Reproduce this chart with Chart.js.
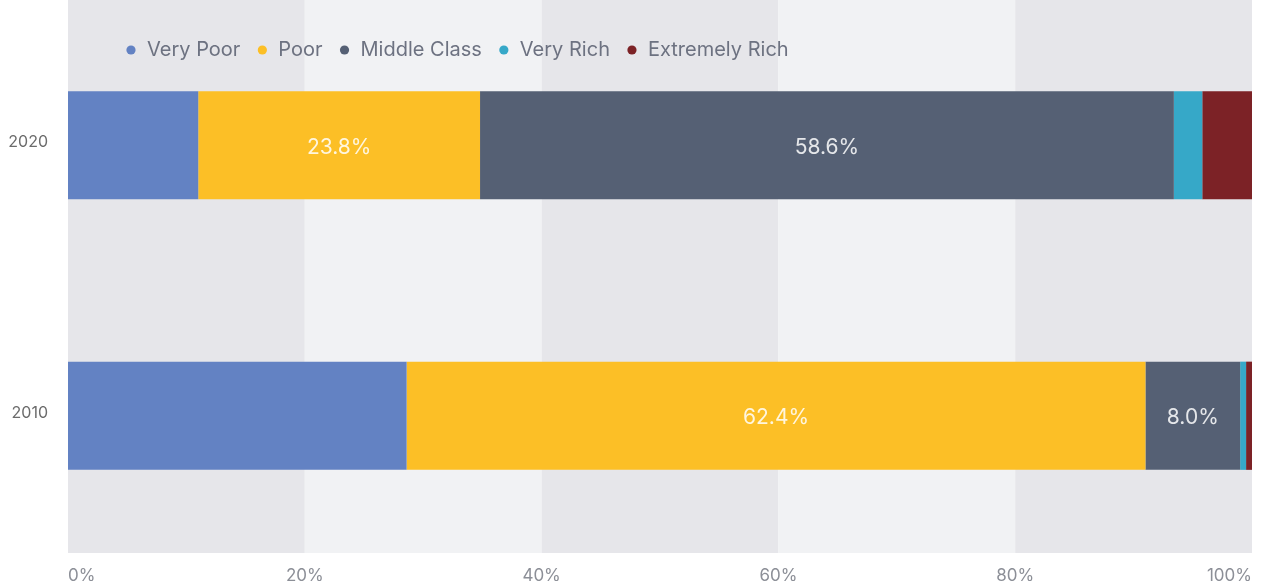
<!DOCTYPE html>
<html>
<head>
<meta charset="utf-8">
<script src="https://cdn.jsdelivr.net/npm/chart.js@4"></script>
<style>
  body { margin: 0; background: #fff; }
  #wrap { width: 1261px; height: 583px; position: relative; }
</style>
</head>
<body>
<div id="wrap"><canvas id="myChart"></canvas></div>
<script>
// data - START
const years = ['2020', '2010'];
const groups = ['Very Poor', 'Poor', 'Middle Class', 'Very Rich', 'Extremely Rich'];
const colors = ['#6382c3', '#fcbf26', '#556074', '#36a8c8', '#7c2226'];
const veryPoor = [11.0, 28.6];
const poor = [23.8, 62.4];
const middleClass = [58.6, 8.0];
const veryRich = [2.4, 0.5];
const extremelyRich = [4.2, 0.5];
const xTicks = [0, 20, 40, 60, 80, 100];
const labelled = ['Poor', 'Middle Class'];
// data - END

const values = [veryPoor, poor, middleClass, veryRich, extremelyRich];

const datasets = groups.map(function (name, i) {
  return {
    label: name,
    data: values[i],
    backgroundColor: colors[i],
    borderWidth: 0,
    barPercentage: 0.4,
    categoryPercentage: 1
  };
});

// striped background behind the bars
const bandPlugin = {
  id: 'bands',
  beforeDraw: function (chart) {
    const ctx = chart.ctx;
    const x = chart.scales.x;
    const bottom = chart.chartArea.bottom + 2;
    ctx.save();
    for (let i = 0; i < xTicks.length - 1; i++) {
      const a = x.getPixelForValue(xTicks[i]);
      const b = x.getPixelForValue(xTicks[i + 1]);
      ctx.fillStyle = i % 2 === 0 ? '#e6e6ea' : '#f1f2f4';
      ctx.fillRect(a, 0, b - a, bottom);
    }
    ctx.restore();
  }
};

// legend sits inside the plot, don't let it take space
const legendPlugin = {
  id: 'legendInside',
  beforeInit: function (chart) {
    const fit = chart.legend.fit;
    chart.legend.fit = function () {
      fit.bind(chart.legend)();
      this.height = 0;
    };
  },
  afterLayout: function (chart) {
    const lg = chart.legend;
    lg.left = 109;
    lg.right = chart.width;
    lg.top = 24;
    lg.bottom = 90;
    lg.height = 66;
  }
};

// percent labels inside segments
const valuePlugin = {
  id: 'values',
  afterDatasetsDraw: function (chart) {
    const ctx = chart.ctx;
    ctx.save();
    ctx.font = '21px Inter';
    ctx.fillStyle = 'rgba(255,255,255,0.85)';
    ctx.textAlign = 'center';
    ctx.textBaseline = 'middle';
    chart.data.datasets.forEach(function (ds, i) {
      if (labelled.indexOf(ds.label) < 0) return;
      chart.getDatasetMeta(i).data.forEach(function (bar, j) {
        const cx = (bar.x + bar.base) / 2;
        ctx.fillText(ds.data[j].toFixed(1) + '%', cx, bar.y + 2);
      });
    });
    ctx.restore();
  }
};

const config = {
  type: 'bar',
  data: { labels: years, datasets: datasets },
  options: {
    indexAxis: 'y',
    responsive: true,
    maintainAspectRatio: false,
    animation: false,
    layout: { padding: { top: 10, right: 9, left: 0, bottom: 0 } },
    plugins: {
      tooltip: { enabled: false },
      legend: {
        position: 'top',
        align: 'start',
        labels: {
          usePointStyle: true,
          pointStyle: 'circle',
          boxWidth: 12,
          boxHeight: 6.5,
          padding: 16,
          color: '#6d7281',
          font: { family: 'Inter', size: 20 }
        }
      }
    },
    scales: {
      x: {
        stacked: true,
        min: 0,
        max: 100,
        afterBuildTicks: function (scale) {
          scale.ticks = xTicks.map(function (v) { return { value: v }; });
        },
        afterFit: function (scale) {
          scale.height = 32;
          scale.paddingLeft = 0;
          scale.paddingRight = 0;
        },
        grid: { display: false, drawTicks: false },
        border: { display: false },
        ticks: {
          align: 'inner',
          padding: 15,
          color: '#8c8f97',
          font: { family: 'Inter', size: 17 },
          callback: function (v) { return v + '%'; }
        }
      },
      y: {
        stacked: true,
        afterFit: function (scale) {
          scale.width = 68;
          scale.paddingTop = 0;
          scale.paddingBottom = 0;
        },
        grid: { display: false, drawTicks: false },
        border: { display: false },
        ticks: {
          padding: 20,
          labelOffset: -3,
          color: '#6b6b6b',
          font: { family: 'Inter', size: 16 }
        }
      }
    }
  },
  plugins: [bandPlugin, legendPlugin, valuePlugin]
};

const myChart = new Chart(document.getElementById('myChart'), config);
</script>
</body>
</html>
